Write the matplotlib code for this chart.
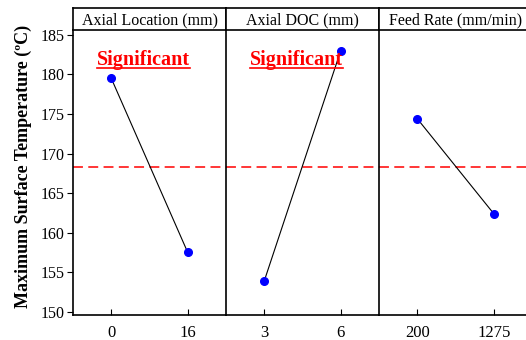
import matplotlib
matplotlib.use("Agg")
import matplotlib.pyplot as plt
from matplotlib.lines import Line2D

plt.rcParams['font.family'] = ['Liberation Serif', 'DejaVu Serif']

# factor names and levels
factors = ["Axial Location (mm)", "Axial DOC (mm)", "Feed Rate (mm/min)"]
levels = [["0", "16"], ["3", "6"], ["200", "1275"]]
# mean max surface temperature at each level
means = [[179.5, 157.5], [153.9, 183.0], [174.4, 162.4]]
overall_mean = 168.3
significant = [True, True, False]

fig = plt.figure(figsize=(5.26, 3.40), dpi=100)
W, H = 526.0, 340.0
left, panel_w = 73, 153
bottom, top, head_top = 315, 30, 8

axes = []
for i in range(3):
    x0 = left + i * panel_w
    ax = fig.add_axes([x0 / W, 1 - bottom / H, panel_w / W, (bottom - top) / H])
    axes.append(ax)
    ax.plot([0, 1], means[i], color='black', lw=0.8, zorder=2)
    ax.plot([0, 1], means[i], 'o', color='#0000ff', ms=5.5, zorder=3)
    ax.axhline(overall_mean, color='red', ls=(0, (6.5, 3.5)), lw=1.1, zorder=1)
    ax.set_xlim(-0.5, 1.5)
    ax.set_ylim(149.6, 185.6)
    ax.set_xticks([0, 1])
    ax.set_xticklabels(levels[i])
    ax.tick_params(axis='x', direction='in', length=4, width=0.8, labelsize=12, pad=7)
    ax.spines['top'].set_visible(False)
    ax.spines['right'].set_visible(False)
    for s in ['left', 'bottom']:
        ax.spines[s].set_linewidth(1.2)
    if i == 0:
        ax.set_yticks([150, 155, 160, 165, 170, 175, 180, 185])
        ax.tick_params(axis='y', direction='out', length=4, width=0.8, labelsize=11.5, pad=2)
        ax.set_ylabel("Maximum Surface Temperature (\u00baC)", fontsize=13,
                      fontweight='bold')
        ax.yaxis.set_label_coords(-0.27, 0.52)
    else:
        ax.set_yticks([])

    # header box
    hax = fig.add_axes([x0 / W, 1 - top / H, panel_w / W, (top - head_top) / H])
    hax.set_xticks([])
    hax.set_yticks([])
    for s in hax.spines.values():
        s.set_linewidth(1.2)
    hax.text(0.5, 0.45, factors[i], ha='center', va='center', fontsize=11.5,
             transform=hax.transAxes)

    if significant[i]:
        t = ax.text(0.46, 0.895, "Significant", ha='center', va='center', color='red',
                    fontsize=14.5, fontweight='bold', transform=ax.transAxes)

fig.canvas.draw()
r = fig.canvas.get_renderer()
inv = fig.transFigure.inverted()
for ax in axes:
    for t in ax.texts:
        bb = t.get_window_extent(r)
        (x1, y1), (x2, y2) = inv.transform([(bb.x0, bb.y0 + 2), (bb.x1, bb.y0 + 2)])
        fig.add_artist(Line2D([x1, x2], [y1, y2], color='red', lw=1.2,
                              transform=fig.transFigure))

fig.savefig("out.png", dpi=100)
